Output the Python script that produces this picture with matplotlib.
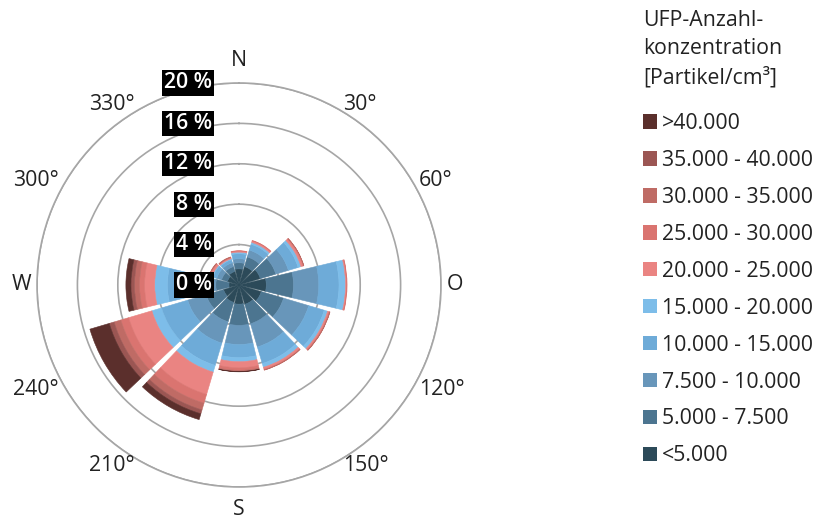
import numpy as np
import matplotlib.pyplot as plt
from matplotlib.patches import Patch

plt.rcParams['font.family'] = ['Open Sans', 'DejaVu Sans']

# Sektormitten der Windrichtung in Grad
directions = [0, 30, 60, 90, 120, 150, 180, 210, 240, 270, 300, 330]
dir_labels = ['N', '30°', '60°', 'O', '120°', '150°', 'S', '210°', '240°', 'W', '300°', '330°']

# Konzentrationsklassen (Partikel/cm³)
classes = ['<5.000', '5.000 - 7.500', '7.500 - 10.000', '10.000 - 15.000',
           '15.000 - 20.000', '20.000 - 25.000', '25.000 - 30.000',
           '30.000 - 35.000', '35.000 - 40.000', '>40.000']
colors = ['#2c4a59', '#4c7590', '#6896ba', '#6eabd8', '#7dbde9',
          '#ea8482', '#da7470', '#bf6b65', '#9b5653', '#5b2f2c']

# Häufigkeit in % je Richtung und Klasse
c_lt5 = [1.6, 1.9, 2.2, 2.7, 2.3, 2.0, 1.9, 1.8, 1.6, 1.0, 1.2, 1.4]
c_5_75 = [0.6, 1.0, 1.6, 2.7, 2.3, 2.0, 2.1, 2.0, 1.8, 1.3, 0.6, 0.5]
c_75_10 = [0.4, 0.7, 1.3, 2.5, 2.6, 2.4, 1.9, 2.2, 1.9, 1.6, 0.5, 0.4]
c_10_15 = [0.5, 0.6, 1.0, 2.0, 1.6, 1.7, 1.3, 2.3, 2.7, 3.2, 0.4, 0.3]
c_15_20 = [0.15, 0.2, 0.3, 0.65, 0.35, 0.4, 0.4, 0.7, 1.0, 1.25, 0.1, 0.1]
c_20_25 = [0.1, 0.15, 0.2, 0.1, 0.15, 0.2, 0.6, 2.3, 2.4, 1.0, 0.2, 0.1]
c_25_30 = [0.05, 0.05, 0.08, 0.05, 0.07, 0.07, 0.25, 0.9, 0.8, 0.5, 0.07, 0.05]
c_30_35 = [0.0, 0.0, 0.02, 0.0, 0.03, 0.03, 0.1, 0.7, 0.7, 0.5, 0.03, 0.05]
c_35_40 = [0.0, 0.0, 0.0, 0.0, 0.0, 0.0, 0.03, 0.4, 0.5, 0.35, 0.0, 0.0]
c_gt40 = [0.0, 0.0, 0.0, 0.0, 0.0, 0.0, 0.02, 0.6, 2.0, 0.5, 0.0, 0.0]
series = [c_lt5, c_5_75, c_75_10, c_10_15, c_15_20,
          c_20_25, c_25_30, c_30_35, c_35_40, c_gt40]

ring_ticks = [0, 4, 8, 12, 16, 20]
legend_title = ['UFP-Anzahl-', 'konzentration', '[Partikel/cm³]']

FS = 15.3
TXT = '#222222'

fig = plt.figure(figsize=(8.17, 5.19), dpi=100)
ax = fig.add_axes([0.0453, 0.0617, 0.4945, 0.7784], projection='polar')
ax.set_theta_zero_location('N')
ax.set_theta_direction(-1)

theta = np.deg2rad(directions)
width = np.deg2rad(27)
bottom = np.zeros(len(directions))
for vals, col in zip(series, colors):
    vals = np.array(vals)
    nz = vals > 0  # leere Klassen nicht zeichnen
    ax.bar(theta[nz], vals[nz], width=width, bottom=bottom[nz], color=col,
           edgecolor=col, linewidth=0.4, zorder=3)
    bottom += vals

ax.set_ylim(0, 20)
ax.set_yticks(ring_ticks[1:])
ax.set_yticklabels([])
ax.set_xticks(theta)
ax.set_xticklabels([])
ax.xaxis.grid(False)
ax.yaxis.grid(True, color='#a6a6a6', linewidth=1.2)
ax.spines['polar'].set_color('#a6a6a6')
ax.spines['polar'].set_linewidth(1.2)
ax.tick_params(length=0)
ax.set_axisbelow(True)

# Richtungsbeschriftung: seitlich am Ring ausgerichtet
for deg, t, lab in zip(directions, theta, dir_labels):
    if deg % 180 == 0:
        ax.text(t, 22.2, lab, ha='center', va='center', fontsize=FS, color=TXT)
    else:
        ha = 'left' if deg < 180 else 'right'
        ax.text(t, 20.6, lab, ha=ha, va='center', fontsize=FS, color=TXT)

# Prozentangaben der Ringe
for r in ring_ticks:
    ax.annotate(f'{r} %', xy=(0, r), xytext=(-27, 0), textcoords='offset pixels',
                ha='right', va='center', fontsize=FS, fontweight='semibold',
                color='white', zorder=5,
                bbox=dict(boxstyle='square,pad=0.1', fc='black', ec='none'))

# Legende
for i, line in enumerate(legend_title):
    fig.text(643 / 817, 1 - (20 + 29 * i) / 519, line, ha='left', va='center',
             fontsize=FS, color=TXT)

handles = [Patch(facecolor=c, edgecolor='none') for c in colors][::-1]
leg = fig.legend(handles, classes[::-1], loc='upper left',
                 bbox_to_anchor=(643 / 817, 1 - 113 / 519), frameon=False,
                 fontsize=FS, handlelength=0.66, handleheight=0.66,
                 handletextpad=0.24, labelspacing=0.75,
                 borderaxespad=0, borderpad=0)
for txt in leg.get_texts():
    txt.set_color(TXT)

fig.savefig('out.png', dpi=100)
